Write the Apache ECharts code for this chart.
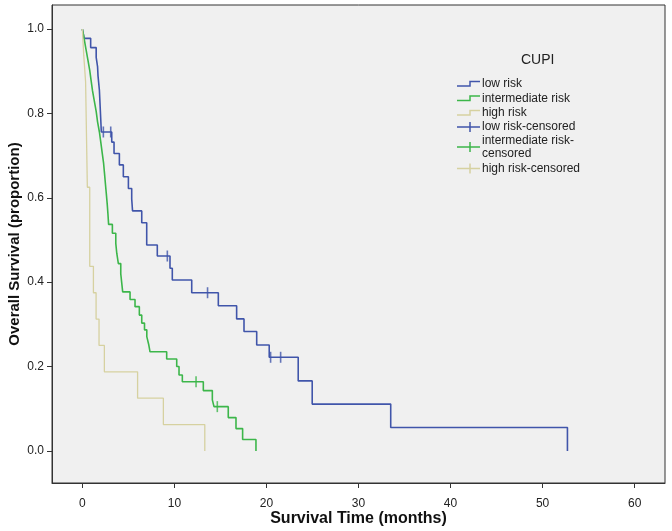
<!DOCTYPE html>
<html><head><meta charset="utf-8">
<script src="https://cdn.jsdelivr.net/npm/echarts@6/dist/echarts.min.js"></script>
<style>html,body{margin:0;padding:0;background:#fff}#c{width:672px;height:531px}</style>
</head><body><div id="c"></div>
<script>
const xTicks = [0, 10, 20, 30, 40, 50, 60];
const yTicks = [0, 0.2, 0.4, 0.6, 0.8, 1.0];
const seriesNames = ['low risk', 'intermediate risk', 'high risk'];
const censorNames = ['low risk-censored', 'intermediate risk-\ncensored', 'high risk-censored'];

const lowTime = [0,0.2,0.9,1.5,1.65,1.7,1.85,2.06,3.19,3.44,4.02,4.45,5.0,5.36,5.45,6.45,6.99,8.14,9.52,9.77,11.88,14.77,16.76,17.56,18.94,20.3,23.45,24.97,33.5,52.7];
const lowSurv = [1,0.978,0.956,0.933,0.911,0.889,0.855,0.756,0.732,0.705,0.678,0.65,0.622,0.597,0.569,0.541,0.488,0.462,0.433,0.405,0.375,0.344,0.313,0.283,0.251,0.222,0.166,0.111,0.0555,0];
const intTime = [0,0.2,0.4,0.6,0.8,0.95,1.1,1.3,1.5,1.65,1.85,2.0,2.15,2.3,2.4,2.5,2.6,2.7,2.78,2.85,3.26,3.63,3.74,3.91,4.17,4.38,5.18,5.72,6.19,6.45,6.75,7.0,7.2,7.35,9.16,10.25,10.5,10.86,13.14,14.12,14.3,15.85,16.69,17.41,18.86];
const intSurv = [1,0.976,0.951,0.927,0.902,0.878,0.854,0.829,0.805,0.780,0.756,0.732,0.707,0.683,0.659,0.634,0.610,0.585,0.561,0.537,0.516,0.492,0.468,0.444,0.420,0.377,0.359,0.342,0.322,0.303,0.287,0.271,0.253,0.235,0.218,0.2,0.18,0.164,0.143,0.121,0.105,0.079,0.053,0.027,0];
const highTime = [0,0.15,0.35,0.54,0.8,1.2,1.49,1.81,2.39,6.0,8.8,13.3];
const highSurv = [1,0.9375,0.875,0.625,0.4375,0.375,0.3125,0.25,0.1875,0.125,0.0625,0];

const lowCensTime = [2.28,3.08,9.23,13.6,20.45,21.54];
const lowCensSurv = [0.756,0.756,0.462,0.375,0.222,0.222];
const intCensTime = [12.35,14.66];
const intCensSurv = [0.164,0.105];

const colors = ['#4055aa', '#3cb64a', '#d6d1a0'];
const zip = (a, b) => a.map((v, i) => [v, b[i]]);

const chart = echarts.init(document.getElementById('c'), null, {renderer: 'canvas'});
const FONT = 'Liberation Sans, Arial, sans-serif';

// legend graphics
const lx0 = 457, lx1 = 480, tx = 482;
const rowY = [84, 98.5, 113, 127, 147, 168.5];
const g = [];
g.push({type: 'text', left: 521, top: 53, style: {text: 'CUPI', font: '14px ' + FONT, fill: '#222'}});
for (let i = 0; i < 3; i++) {
  const y = rowY[i];
  g.push({type: 'polyline', shape: {points: [[lx0, y + 2], [lx0 + 13, y + 2], [lx0 + 13, y - 2.5], [lx1, y - 2.5]]},
    style: {stroke: colors[i], lineWidth: 1.5, fill: null}});
  g.push({type: 'text', x: tx, y: y, style: {text: seriesNames[i], font: '12px ' + FONT, fill: '#222', textVerticalAlign: 'middle'}});
}
for (let i = 0; i < 3; i++) {
  const y = rowY[3 + i];
  g.push({type: 'line', shape: {x1: lx0, y1: y, x2: lx1, y2: y}, style: {stroke: colors[i], lineWidth: 1.5}});
  g.push({type: 'line', shape: {x1: lx0 + 13, y1: y - 5, x2: lx0 + 13, y2: y + 5}, style: {stroke: colors[i], lineWidth: 1.5}});
  g.push({type: 'text', x: tx, y: y, style: {text: censorNames[i], font: '12px ' + FONT, fill: '#222', textVerticalAlign: 'middle', lineHeight: 13}});
}

const lineSeries = [[lowTime, lowSurv], [intTime, intSurv], [highTime, highSurv]].map((d, i) => ({
  name: seriesNames[i], type: 'line', step: 'end', showSymbol: false, symbol: 'none',
  data: zip(d[0], d[1]), lineStyle: {color: colors[i], width: i === 2 ? 1.3 : 1.6}, z: 3 + i, animation: false
}));
const censSeries = [[lowCensTime, lowCensSurv, 0], [intCensTime, intCensSurv, 1]].map(d => ({
  name: censorNames[d[2]], type: 'scatter', symbol: 'rect', symbolSize: [1.6, 11],
  data: zip(d[0], d[1]), itemStyle: {color: colors[d[2]]}, z: 8, animation: false
}));

chart.setOption({
  backgroundColor: '#ffffff',
  animation: false,
  grid: {left: 52, right: 7, top: 5, bottom: 48, containLabel: false, outerBoundsMode: 'none',
    show: true, backgroundColor: '#f0f0f0', borderColor: '#333', borderWidth: 1},
  xAxis: {
    type: 'value', min: -3.3, max: 63.3,
    name: 'Survival Time (months)', nameLocation: 'middle', nameGap: 28, nameMoveOverlap: false,
    nameTextStyle: {fontFamily: FONT, fontSize: 16, fontWeight: 'bold', color: '#111'},
    axisLine: {show: true, onZero: false, lineStyle: {color: '#333', width: 1}},
    axisTick: {show: true, inside: false, length: 5, customValues: xTicks, lineStyle: {color: '#333'}},
    axisLabel: {customValues: xTicks, margin: 15, fontFamily: FONT, fontSize: 12, color: '#222'},
    splitLine: {show: false}
  },
  yAxis: {
    type: 'value', min: -0.076, max: 1.057,
    name: 'Overall Survival (proportion)', nameLocation: 'middle', nameGap: 30, nameMoveOverlap: false,
    nameTextStyle: {fontFamily: FONT, fontSize: 15, fontWeight: 'bold', color: '#111'},
    axisLine: {show: true, onZero: false, lineStyle: {color: '#333', width: 1}},
    axisTick: {show: true, inside: false, length: 5, customValues: yTicks, lineStyle: {color: '#333'}},
    axisLabel: {customValues: yTicks, margin: 8, fontFamily: FONT, fontSize: 12, color: '#222', formatter: v => v.toFixed(1)},
    splitLine: {show: false}
  },
  series: lineSeries.concat(censSeries),
  graphic: g
});
</script></body></html>
